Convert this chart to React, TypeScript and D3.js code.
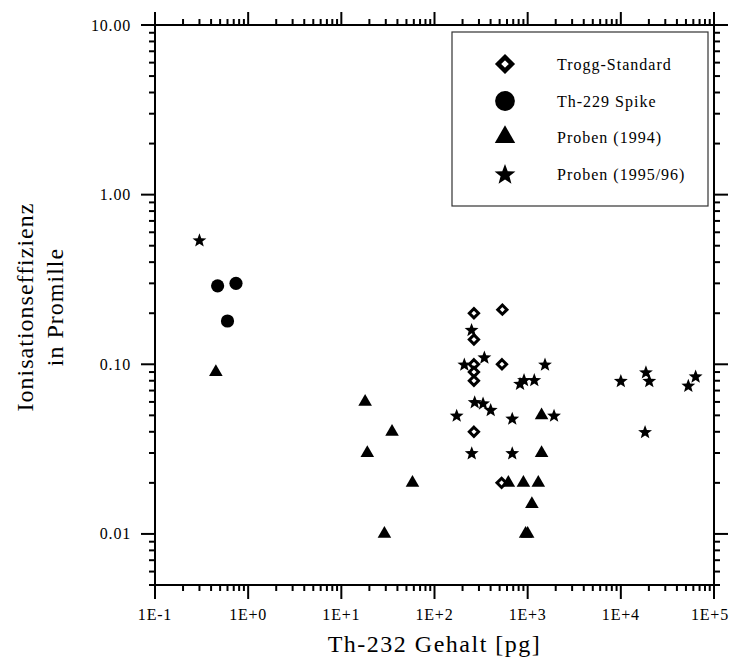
import React from "react";
import * as d3 from "d3";

// ---- data ----
const troggX = [265, 535, 265, 265, 530, 265, 265, 265, 525];
const troggY = [0.2, 0.21, 0.14, 0.1, 0.1, 0.09, 0.08, 0.04, 0.02];

const spikeX = [0.47, 0.74, 0.6];
const spikeY = [0.29, 0.3, 0.18];

const p94X = [0.45, 18, 19, 35, 58, 29, 620, 900, 1300, 1110, 950, 1000, 1410, 1410];
const p94Y = [0.09, 0.06, 0.03, 0.04, 0.02, 0.01, 0.02, 0.02, 0.02, 0.015, 0.01, 0.01, 0.05, 0.03];

const p95X = [0.3, 250, 209, 343, 1535, 828, 914, 1178, 270, 332, 401, 173, 683, 1919, 251, 683, 10000, 18600, 20200, 18200, 53000, 63500];
const p95Y = [0.54, 0.16, 0.1, 0.11, 0.1, 0.077, 0.081, 0.081, 0.06, 0.059, 0.054, 0.05, 0.048, 0.05, 0.03, 0.03, 0.08, 0.09, 0.08, 0.04, 0.075, 0.085];

const xTickValues = [0.1, 1, 10, 100, 1000, 10000, 100000];
const xTickLabels = ["1E-1", "1E+0", "1E+1", "1E+2", "1E+3", "1E+4", "1E+5"];
const yTickValues = [0.01, 0.1, 1, 10];
const yTickLabels = ["0.01", "0.10", "1.00", "10.00"];

const legendLabels = ["Trogg-Standard", "Th-229 Spike", "Proben (1994)", "Proben (1995/96)"];

const xTitle = "Th-232 Gehalt [pg]";
const yTitle1 = "Ionisationseffizienz";
const yTitle2 = "in Promille";

// ---- layout ----
const W = 731;
const H = 658;
const L = 155, R = 714, T = 25, B = 585;
const FONT = "'Liberation Serif', 'Times New Roman', serif";

const x = d3.scaleLog().domain([0.1, 1e5]).range([L, R]);
const y = d3.scaleLog().domain([0.005, 10]).range([B, T]);

function starPath(R1: number, r1: number) {
  const pts: [number, number][] = [];
  for (let i = 0; i < 10; i++) {
    const a = -Math.PI / 2 + (i * Math.PI) / 5;
    const rr = i % 2 === 0 ? R1 : r1;
    pts.push([rr * Math.cos(a), rr * Math.sin(a) + 0.6]);
  }
  return d3.line()(pts) + "Z";
}
const STAR = starPath(7.3, 3.1);
const TRI = d3.symbol().type(d3.symbolTriangle).size(80)()!;
const DIAMOND = "M0,-4.6L4.6,0L0,4.6L-4.6,0Z";

function Marker({ kind, cx, cy, s = 1 }: { kind: number; cx: number; cy: number; s?: number }) {
  const tr = `translate(${cx},${cy}) scale(${s})`;
  if (kind === 0)
    return <path d={DIAMOND} transform={tr} fill="#fff" stroke="#000" strokeWidth={3} />;
  if (kind === 1) return <circle cx={0} cy={0} r={6.6} transform={tr} fill="#000" />;
  if (kind === 2) return <path d={TRI} transform={tr} fill="#000" />;
  return <path d={STAR} transform={tr} fill="#000" />;
}

export default function App() {
  const xMinor: number[] = [];
  for (let e = -1; e < 5; e++) for (let k = 2; k <= 9; k++) xMinor.push(k * Math.pow(10, e));
  const yMinor: number[] = [];
  for (let k = 5; k <= 9; k++) yMinor.push(k * 0.001);
  for (let e = -2; e < 1; e++) for (let k = 2; k <= 9; k++) yMinor.push(k * Math.pow(10, e));

  const MAJ = 14, MIN = 6;
  const sw = 2;

  const series = [
    { xs: troggX, ys: troggY },
    { xs: spikeX, ys: spikeY },
    { xs: p94X, ys: p94Y },
    { xs: p95X, ys: p95Y },
  ];

  const legRows = [64, 101, 137, 174];

  return (
    <svg width={W} height={H} style={{ position: "absolute", left: 0, top: 0, background: "#fff" }} fontFamily={FONT}>
      <rect x={0} y={0} width={W} height={H} fill="#fff" />
      <g stroke="#000" strokeWidth={sw}>
        {xMinor.map((v, i) => (
          <g key={"xm" + i}>
            <line x1={x(v)} x2={x(v)} y1={B} y2={B + MIN} />
            <line x1={x(v)} x2={x(v)} y1={T} y2={T - MIN} />
          </g>
        ))}
        {xTickValues.map((v, i) => (
          <g key={"xM" + i}>
            <line x1={x(v)} x2={x(v)} y1={B} y2={B + MAJ} />
            <line x1={x(v)} x2={x(v)} y1={T} y2={T - MAJ + 1} />
          </g>
        ))}
        {yMinor.map((v, i) => (
          <g key={"ym" + i}>
            <line x1={L} x2={L - MIN} y1={y(v)} y2={y(v)} />
            <line x1={R} x2={R + MIN} y1={y(v)} y2={y(v)} />
          </g>
        ))}
        {yTickValues.map((v, i) => (
          <g key={"yM" + i}>
            <line x1={L} x2={L - MAJ} y1={y(v)} y2={y(v)} />
            <line x1={R} x2={R + MAJ} y1={y(v)} y2={y(v)} />
          </g>
        ))}
      </g>
      <rect x={L} y={T} width={R - L} height={B - T} fill="none" stroke="#000" strokeWidth={sw} />

      <g fontSize={16} fill="#000" letterSpacing={0.8}>
        {xTickValues.map((v, i) => (
          <text
            key={"xl" + i}
            x={i === xTickValues.length - 1 ? W - 2 : x(v)}
            y={620}
            textAnchor={i === xTickValues.length - 1 ? "end" : "middle"}
          >
            {xTickLabels[i]}
          </text>
        ))}
        {yTickValues.map((v, i) => (
          <text key={"yl" + i} x={131} y={y(v) + 5.5} textAnchor="end">
            {yTickLabels[i]}
          </text>
        ))}
      </g>

      <text x={(L + R) / 2} y={652} textAnchor="middle" fontSize={24} letterSpacing={1.5}>
        {xTitle}
      </text>
      <g transform={`translate(33,${(T + B) / 2 + 2}) rotate(-90)`}>
        <text x={0} y={0} textAnchor="middle" fontSize={24} letterSpacing={1}>
          {yTitle1}
        </text>
        <text x={0} y={30} textAnchor="middle" fontSize={24} letterSpacing={1}>
          {yTitle2}
        </text>
      </g>

      {series.map((s, si) => (
        <g key={"s" + si}>
          {s.xs.map((xv, i) => (
            <Marker key={i} kind={si} cx={x(xv)} cy={y(s.ys[i])} />
          ))}
        </g>
      ))}

      <rect x={452} y={32} width={256} height={174} fill="#fff" stroke="#333" strokeWidth={1.2} />
      {legendLabels.map((lab, i) => (
        <g key={"lg" + i}>
          <Marker kind={i} cx={505} cy={legRows[i]} s={1.5} />
          <text x={557} y={legRows[i] + 6} fontSize={16} letterSpacing={1}>
            {lab}
          </text>
        </g>
      ))}
    </svg>
  );
}
